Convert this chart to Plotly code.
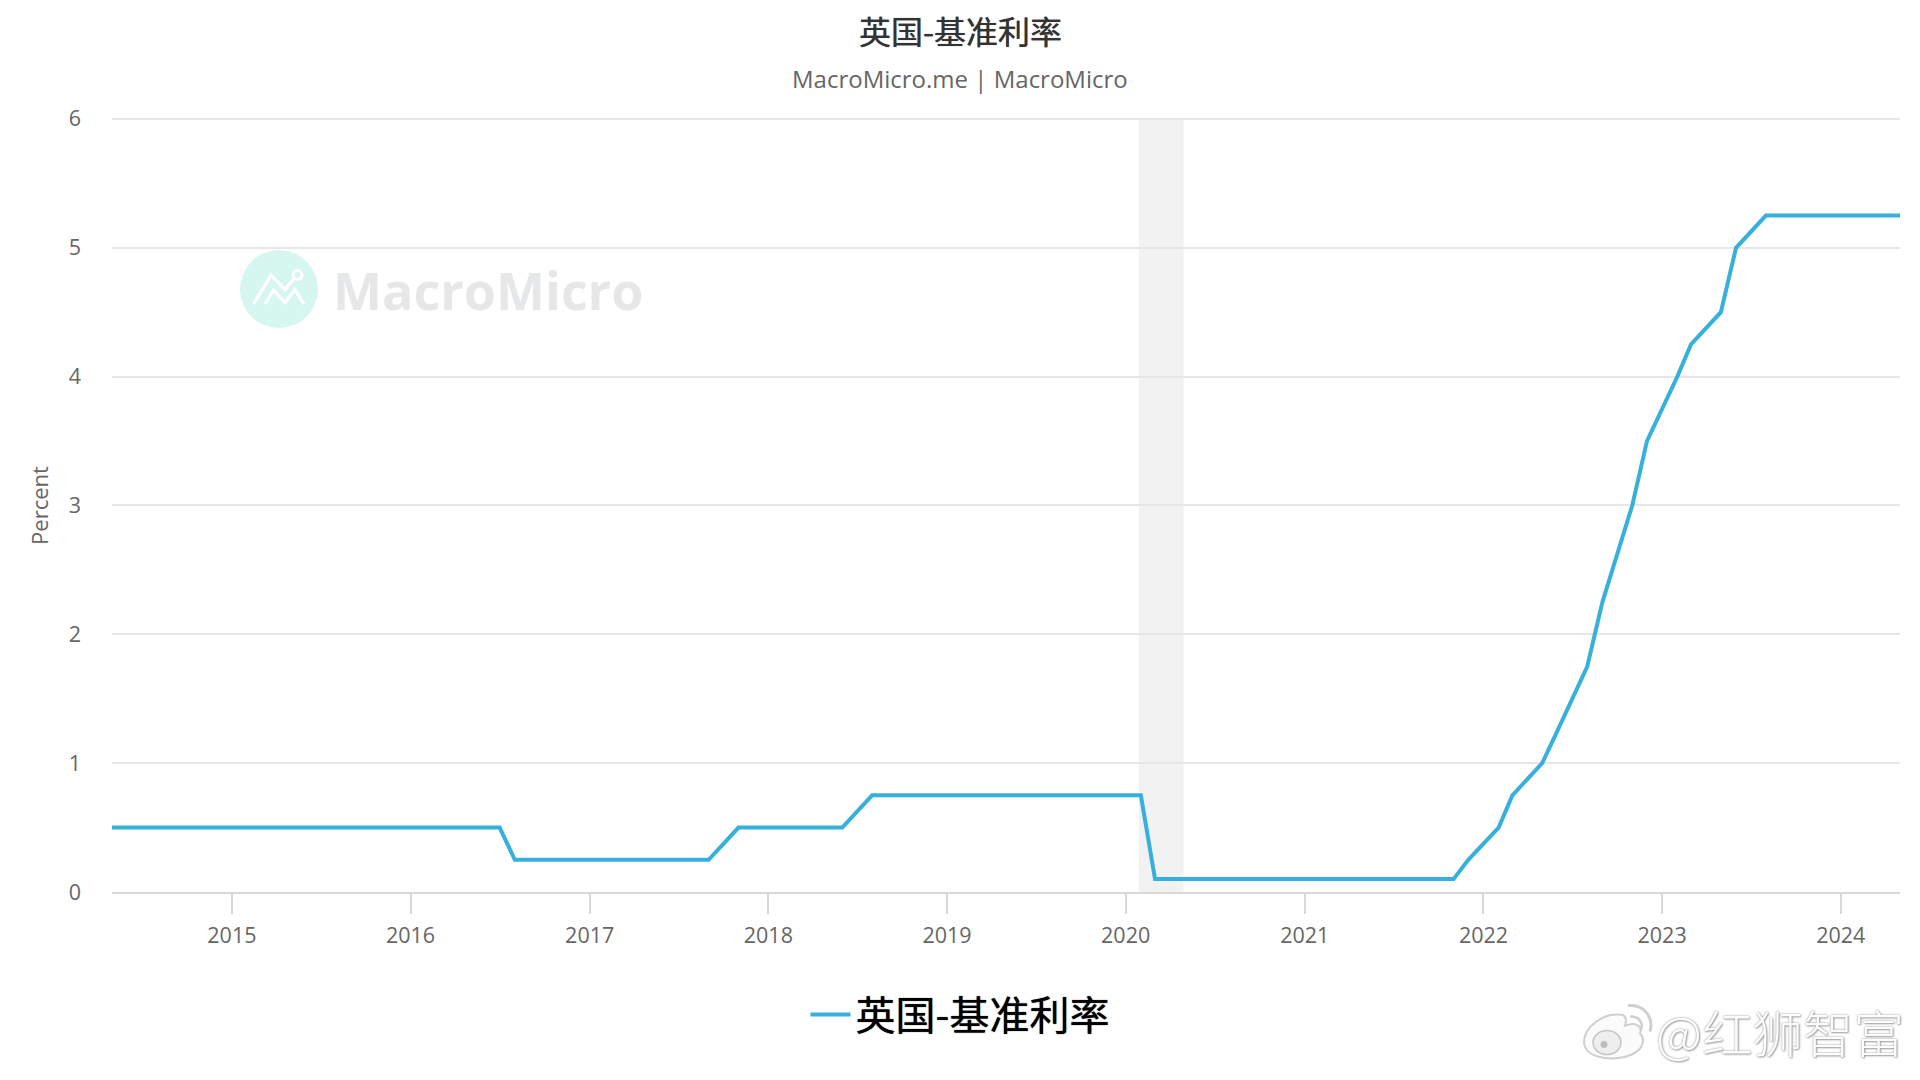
import plotly.graph_objects as go

TITLE = "英国-基准利率"
SUBTITLE = "MacroMicro.me | MacroMicro"
YLABEL = "Percent"
WATERMARK = "MacroMicro"
WEIBO = "@红狮智富"

dates = [
    "2014-05-01", "2014-06-01", "2014-08-01", "2014-09-01", "2014-11-01", "2014-12-01",
    "2015-02-01", "2015-03-01", "2015-05-01", "2015-06-01", "2015-08-01", "2015-09-01", "2015-11-01", "2015-12-01",
    "2016-02-01", "2016-03-01", "2016-05-01", "2016-06-01", "2016-07-01", "2016-08-01", "2016-09-01", "2016-11-01", "2016-12-01",
    "2017-02-01", "2017-03-01", "2017-05-01", "2017-06-01", "2017-08-01", "2017-09-01", "2017-11-01", "2017-12-01",
    "2018-02-01", "2018-03-01", "2018-05-01", "2018-06-01", "2018-08-01", "2018-09-01", "2018-11-01", "2018-12-01",
    "2019-02-01", "2019-03-01", "2019-05-01", "2019-06-01", "2019-08-01", "2019-09-01", "2019-11-01", "2019-12-01",
    "2020-02-01", "2020-03-01", "2020-05-01", "2020-06-01", "2020-08-01", "2020-09-01", "2020-11-01", "2020-12-01",
    "2021-02-01", "2021-03-01", "2021-05-01", "2021-06-01", "2021-08-01", "2021-09-01", "2021-11-01", "2021-12-01",
    "2022-02-01", "2022-03-01", "2022-05-01", "2022-06-01", "2022-08-01", "2022-09-01", "2022-11-01", "2022-12-01",
    "2023-02-01", "2023-03-01", "2023-05-01", "2023-06-01", "2023-08-01", "2023-09-01", "2023-11-01", "2023-12-01",
    "2024-02-01", "2024-03-01", "2024-05-01",
]
rates = [
    0.5, 0.5, 0.5, 0.5, 0.5, 0.5,
    0.5, 0.5, 0.5, 0.5, 0.5, 0.5, 0.5, 0.5,
    0.5, 0.5, 0.5, 0.5, 0.5, 0.25, 0.25, 0.25, 0.25,
    0.25, 0.25, 0.25, 0.25, 0.25, 0.25, 0.5, 0.5,
    0.5, 0.5, 0.5, 0.5, 0.75, 0.75, 0.75, 0.75,
    0.75, 0.75, 0.75, 0.75, 0.75, 0.75, 0.75, 0.75,
    0.75, 0.1, 0.1, 0.1, 0.1, 0.1, 0.1, 0.1,
    0.1, 0.1, 0.1, 0.1, 0.1, 0.1, 0.1, 0.25,
    0.5, 0.75, 1.0, 1.25, 1.75, 2.25, 3.0, 3.5,
    4.0, 4.25, 4.5, 5.0, 5.25, 5.25, 5.25, 5.25,
    5.25, 5.25, 5.25,
]
recession = ["2020-01-28", "2020-04-28"]
x_range = ["2014-05-01", "2024-05-01"]
y_ticks = [0, 1, 2, 3, 4, 5, 6]
y_range = [0, 6.015]

L, R, T, B = 112, 1900, 116.8, 892.3


def px(x):
    return (x - L) / (R - L)


def py(y):
    return (B - y) / (B - T)


def path(points):
    return "M" + " L".join(f"{px(x):.5f},{py(y):.5f}" for x, y in points)


def blob(points):
    start, segs = points
    s = f"M{px(start[0]):.5f},{py(start[1]):.5f}"
    for c1, c2, e in segs:
        s += (f" C{px(c1[0]):.5f},{py(c1[1]):.5f} {px(c2[0]):.5f},{py(c2[1]):.5f}"
              f" {px(e[0]):.5f},{py(e[1]):.5f}")
    return s


def circle(cx, cy, r, **kw):
    return dict(type="circle", xref="paper", yref="paper", x0=px(cx - r), x1=px(cx + r),
                y0=py(cy + r), y1=py(cy - r), **kw)


fig = go.Figure(go.Scatter(
    x=dates, y=rates, mode="lines", name=TITLE,
    line=dict(color="#38b0de", width=4),
))

shapes = [
    dict(type="rect", xref="x", yref="y", x0=recession[0], x1=recession[1], y0=y_ticks[0], y1=y_ticks[-1],
         fillcolor="#f2f2f2", line_width=0, layer="below"),
    # MacroMicro logo
    circle(279, 289, 39, fillcolor="#d5f7f0", line_width=0, layer="below"),
    dict(type="path", xref="paper", yref="paper", layer="below",
         path=path([(253.5, 304), (271, 275), (285, 289.5), (297, 275)]),
         line=dict(color="white", width=3.2)),
    dict(type="path", xref="paper", yref="paper", layer="below",
         path=path([(265, 304), (273.5, 290), (285, 302.5), (295, 289.5), (304, 304)]),
         line=dict(color="white", width=3.2)),
    circle(297.5, 275, 4.5, fillcolor="#d5f7f0", line=dict(color="white", width=3), layer="below"),
    # Weibo logo
    dict(type="path", xref="paper", yref="paper", layer="above",
         path=blob(((1584, 1042), [
             ((1584, 1028), (1602, 1014), (1619, 1015)),
             ((1628, 1015), (1626, 1023), (1625, 1026)),
             ((1635, 1022), (1643, 1026), (1640, 1034)),
             ((1645, 1038), (1644, 1048), (1635, 1053)),
             ((1622, 1062), (1584, 1062), (1584, 1042)),
         ])) + " Z",
         fillcolor="#fbfbfb", line=dict(color="#cfcfcf", width=2)),
    dict(type="circle", xref="paper", yref="paper", layer="above",
         x0=px(1593), x1=px(1621), y0=py(1055), y1=py(1031),
         fillcolor="#eeeeee", line=dict(color="#c4c4c4", width=1.5)),
    circle(1604, 1045, 3.5, fillcolor="#bdbdbd", line_width=0, layer="above"),
    dict(type="path", xref="paper", yref="paper", layer="above",
         path=blob(((1628, 1006), [((1644, 1004), (1654, 1018), (1650, 1032))])),
         line=dict(color="#cfcfcf", width=3)),
    dict(type="path", xref="paper", yref="paper", layer="above",
         path=blob(((1630, 1017), [((1638, 1016), (1644, 1023), (1641, 1030))])),
         line=dict(color="#cfcfcf", width=2.5)),
]

annotations = [
    dict(text=TITLE, x=px(960), y=py(30), xref="paper", yref="paper", showarrow=False,
         xanchor="center", yanchor="middle",
         font=dict(family="Noto Sans CJK SC", size=32, color="#333333", weight=400,
                   shadow="0 0 0.7px #333333")),
    dict(text=SUBTITLE, x=px(960), y=py(78), xref="paper", yref="paper", showarrow=False,
         xanchor="center", yanchor="middle",
         font=dict(family="Open Sans", size=24, color="#666666")),
    dict(text=YLABEL, x=px(39), y=py(506), xref="paper", yref="paper", showarrow=False,
         textangle=-90, xanchor="center", yanchor="middle",
         font=dict(family="Open Sans", size=22, color="#666666")),
    dict(text=f"<b>{WATERMARK}</b>", x=px(331), y=py(289), xref="paper", yref="paper", showarrow=False,
         xanchor="left", yanchor="middle",
         font=dict(family="Open Sans", size=52, color="#e6e7e9")),
    dict(text=WEIBO, x=px(1653.5), y=py(1031), xref="paper", yref="paper", showarrow=False,
         xanchor="left", yanchor="middle",
         font=dict(family="Noto Sans CJK SC", size=50.5, color="#fdfdfd", weight=300,
                   shadow="0 0 2px #8a8a8a, 1px 1px 2px #a8a8a8")),
]

fig.update_layout(
    width=1920, height=1080,
    margin=dict(l=L, r=1920 - R, t=T, b=1080 - B, autoexpand=False),
    paper_bgcolor="white", plot_bgcolor="white",
    showlegend=True,
    legend=dict(orientation="h", xref="container", yref="container",
                x=0.5, xanchor="center", y=(1080 - 1014.5) / 1080, yanchor="middle",
                itemwidth=40, bgcolor="rgba(0,0,0,0)",
                font=dict(family="Noto Sans CJK SC", size=40, color="#000000", weight=400,
                          shadow="0 0 1px #000000")),
    shapes=shapes,
    annotations=annotations,
    xaxis=dict(
        range=x_range, type="date", dtick="M12", tick0="2015-01-01", tickformat="%Y",
        showgrid=False, showline=True, linecolor="#d8d8d8", linewidth=2,
        ticks="outside", ticklen=20, tickwidth=2, tickcolor="#d8d8d8",
        ticklabelstandoff=3,
        tickfont=dict(family="Open Sans", size=21.5, color="#666666"),
        zeroline=False,
    ),
    yaxis=dict(
        range=y_range, tickvals=y_ticks, showgrid=True, gridcolor="#e6e6e6", gridwidth=2,
        zeroline=False, showline=False, ticks="", ticklabelstandoff=30,
        tickfont=dict(family="Open Sans", size=21.5, color="#666666"),
    ),
)

fig.write_html("out.html", config=dict(displayModeBar=False),
               post_script="document.body.style.margin='0';document.body.style.overflow='hidden';")
